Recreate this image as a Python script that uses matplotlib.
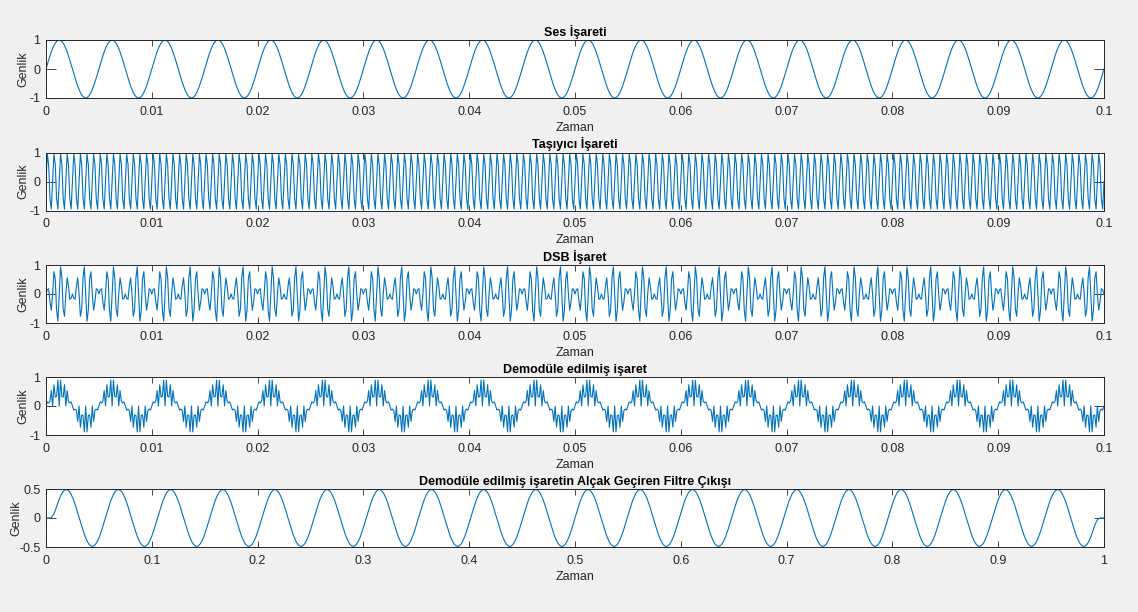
import numpy as np
import matplotlib
matplotlib.use('Agg')
import matplotlib.pyplot as plt

# signal parameters
fs = 8000           # sampling rate (Hz)
duration = 0.1      # s
fm = 200            # message frequency (Hz), 20 cycles in 0.1 s
fc = 1600           # carrier frequency (Hz)
msg_amp = 1.0
car_amp = 1.0
lp_taps = 12        # short FIR, its delay shows in the last panel
lp_cut = 1000       # Hz

titles = ['Ses İşareti', 'Taşıyıcı İşareti', 'DSB İşaret',
          'Demodüle edilmiş işaret',
          'Demodüle edilmiş işaretin Alçak Geçiren Filtre Çıkışı']
xticks_t = [0, 0.01, 0.02, 0.03, 0.04, 0.05, 0.06, 0.07, 0.08, 0.09, 0.1]
xlabels_t = ['0', '0.01', '0.02', '0.03', '0.04', '0.05', '0.06', '0.07', '0.08', '0.09', '0.1']
xticks_n = [0, 0.1, 0.2, 0.3, 0.4, 0.5, 0.6, 0.7, 0.8, 0.9, 1]
xlabels_n = ['0', '0.1', '0.2', '0.3', '0.4', '0.5', '0.6', '0.7', '0.8', '0.9', '1']
yticks_1 = [-1, 0, 1]
yticks_5 = [-0.5, 0, 0.5]
ylabels_5 = ['-0.5', '0', '0.5']


def lowpass(x):
    n = np.arange(lp_taps) - (lp_taps - 1) / 2
    h = np.sinc(2 * lp_cut / fs * n) * np.hamming(lp_taps)
    h = h / h.sum()
    return np.convolve(x, h)  # full length, like conv()


def main():
    t = np.arange(0, duration + 0.5 / fs, 1 / fs)
    mesaj = msg_amp * np.sin(2 * np.pi * fm * t)
    tasiyici = car_amp * np.sin(2 * np.pi * fc * t)
    dsb = mesaj * tasiyici
    demod = dsb * tasiyici
    filtre = lowpass(demod)
    xn = np.linspace(0, 1, len(filtre))

    plt.rcParams['font.family'] = ['Liberation Sans', 'DejaVu Sans']
    plt.rcParams['axes.unicode_minus'] = False
    fig = plt.figure(figsize=(11.38, 6.12), dpi=100, facecolor='#F0F0F0')

    left = 46 / 1138
    width = (1104 - 46) / 1138
    h = 58 / 612
    tops = [40, 152.5, 265, 377, 489]

    series = [(t, mesaj), (t, tasiyici), (t, dsb), (t, demod), (xn, filtre)]
    dark = '#262626'
    fsz = 9
    for i, (x, y) in enumerate(series):
        bottom = 1 - (tops[i] + 58) / 612
        ax = fig.add_axes([left, bottom, width, h])
        ax.plot(x, y, color='#0072BD', lw=0.8)
        if i < 4:
            ax.set_xlim(0, 0.1)
            ax.set_ylim(-1, 1)
            ax.set_xticks(xticks_t)
            ax.set_xticklabels(xlabels_t)
            ax.set_yticks(yticks_1)
            ypad = 0
        else:
            ax.set_xlim(0, 1)
            ax.set_ylim(-0.5, 0.5)
            ax.set_xticks(xticks_n)
            ax.set_xticklabels(xlabels_n)
            ax.set_yticks(yticks_5)
            ax.set_yticklabels(ylabels_5)
            ypad = -2
        ax.set_title(titles[i], fontsize=fsz, fontweight='bold', color='black', pad=3)
        ax.set_xlabel('Zaman', fontsize=fsz, color=dark, labelpad=3)
        ax.set_ylabel('Genlik', fontsize=fsz, color=dark, labelpad=ypad)
        ax.tick_params(axis='both', direction='in', labelsize=fsz, colors=dark,
                       top=True, right=True, width=0.6)
        ax.tick_params(axis='x', length=4.5, pad=5.5)
        ax.tick_params(axis='y', length=7, pad=4)
        for s in ax.spines.values():
            s.set_color(dark)
            s.set_linewidth(0.7)

    fig.savefig('out.png', dpi=100, facecolor=fig.get_facecolor())


if __name__ == '__main__':
    main()
